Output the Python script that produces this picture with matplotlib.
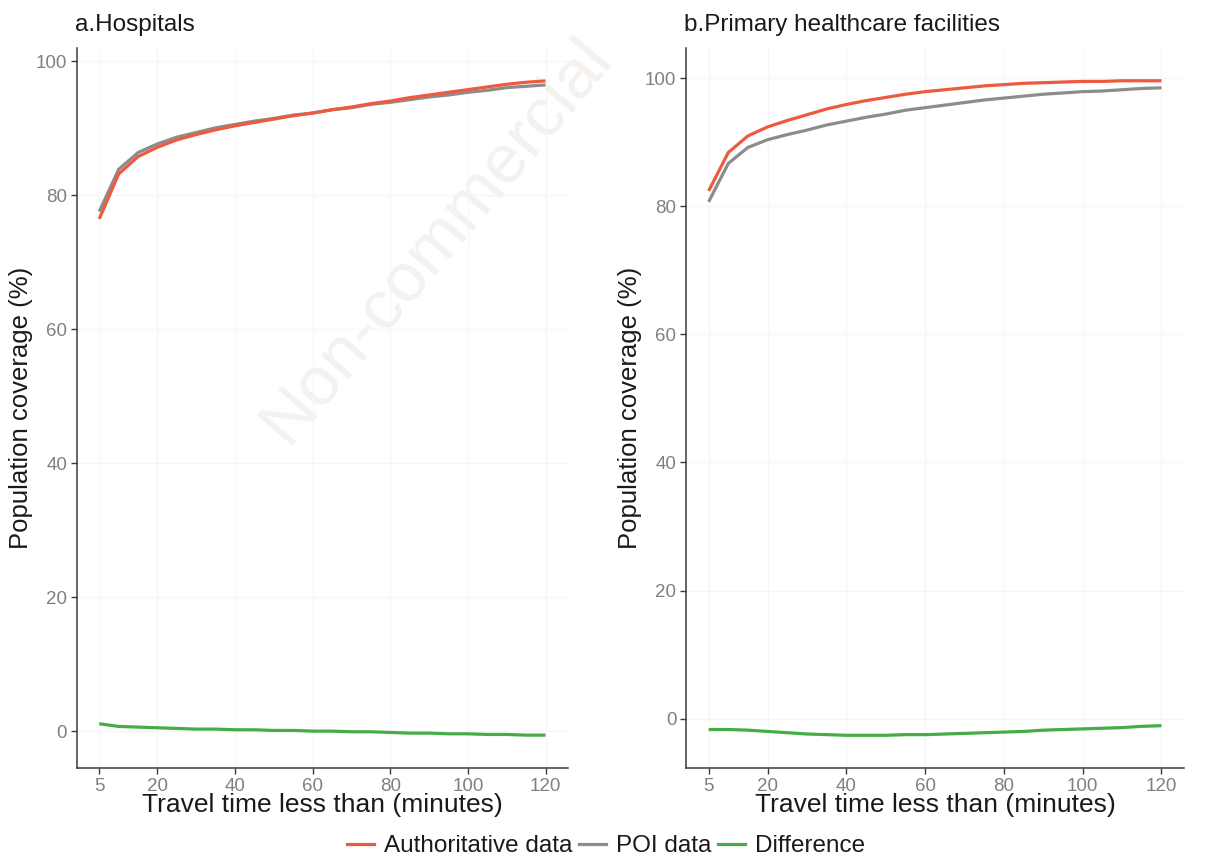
import numpy as np
import matplotlib.pyplot as plt
from matplotlib.lines import Line2D

plt.rcParams['font.family'] = ['Liberation Sans', 'DejaVu Sans']

minutes = [5, 10, 15, 20, 25, 30, 35, 40, 45, 50, 55, 60,
           65, 70, 75, 80, 85, 90, 95, 100, 105, 110, 115, 120]

# a. Hospitals
hosp_auth = [76.5, 83.2, 85.8, 87.2, 88.3, 89.1, 89.8, 90.4, 90.9, 91.4, 91.9, 92.3,
             92.8, 93.2, 93.7, 94.1, 94.6, 95.0, 95.4, 95.8, 96.2, 96.6, 96.9, 97.1]
hosp_poi = [77.6, 83.9, 86.4, 87.7, 88.7, 89.4, 90.1, 90.6, 91.1, 91.5, 92.0, 92.3,
            92.8, 93.1, 93.6, 93.9, 94.3, 94.7, 95.0, 95.4, 95.7, 96.1, 96.3, 96.5]
hosp_diff = [1.1, 0.7, 0.6, 0.5, 0.4, 0.3, 0.3, 0.2, 0.2, 0.1, 0.1, 0.0,
             0.0, -0.1, -0.1, -0.2, -0.3, -0.3, -0.4, -0.4, -0.5, -0.5, -0.6, -0.6]

# b. Primary healthcare facilities
phc_auth = [82.4, 88.4, 91.0, 92.4, 93.4, 94.3, 95.2, 95.9, 96.5, 97.0, 97.5, 97.9,
            98.2, 98.5, 98.8, 99.0, 99.2, 99.3, 99.4, 99.5, 99.5, 99.6, 99.6, 99.6]
phc_poi = [80.7, 86.7, 89.2, 90.4, 91.2, 91.9, 92.7, 93.3, 93.9, 94.4, 95.0, 95.4,
           95.8, 96.2, 96.6, 96.9, 97.2, 97.5, 97.7, 97.9, 98.0, 98.2, 98.4, 98.5]
phc_diff = [-1.7, -1.7, -1.8, -2.0, -2.2, -2.4, -2.5, -2.6, -2.6, -2.6, -2.5, -2.5,
            -2.4, -2.3, -2.2, -2.1, -2.0, -1.8, -1.7, -1.6, -1.5, -1.4, -1.2, -1.1]

x_ticks = [5, 20, 40, 60, 80, 100, 120]
y_ticks = [0, 20, 40, 60, 80, 100]

c_auth = '#EE5A3E'
c_poi = '#8C8C8C'
c_diff = '#45AD45'

fig = plt.figure(figsize=(12.12, 8.59), dpi=100)

# faint watermark, behind everything
fig.text(0.36, 0.72, 'Non-commercial', fontsize=50, color='#F4F1EF',
         rotation=50, ha='center', va='center', zorder=-5)

ax1 = fig.add_axes([0.0635, 0.106, 0.405, 0.838])
ax2 = fig.add_axes([0.566, 0.106, 0.411, 0.838])


def style_panel(ax, title, ylim):
    ax.set_facecolor('none')
    ax.set_xlim(-0.75, 125.75)
    ax.set_ylim(*ylim)
    ax.set_xticks(x_ticks)
    ax.set_yticks(y_ticks)
    ax.grid(True, color='#F6F6F6', linewidth=1.0)
    ax.set_axisbelow(True)
    for side in ['top', 'right']:
        ax.spines[side].set_visible(False)
    for side in ['left', 'bottom']:
        ax.spines[side].set_color('#3A3A3A')
        ax.spines[side].set_linewidth(1.1)
    ax.tick_params(colors='#3A3A3A', labelcolor='#808080', labelsize=13.5,
                   length=4, width=1.0, pad=3)
    ax.set_xlabel('Travel time less than (minutes)', fontsize=19, color='#1A1A1A',
                  labelpad=-1)
    ax.set_ylabel('Population coverage (%)', fontsize=18.5, color='#1A1A1A', labelpad=2)
    ax.set_title(title, loc='left', fontsize=17.5, color='#1A1A1A', pad=12, x=-0.005)


for ax, auth, poi, diff, title, ylim in [
        (ax1, hosp_auth, hosp_poi, hosp_diff, 'a.Hospitals', (-5.5, 102)),
        (ax2, phc_auth, phc_poi, phc_diff, 'b.Primary healthcare facilities', (-7.7, 104.7))]:
    ax.plot(minutes, poi, color=c_poi, linewidth=2.3, solid_capstyle='butt')
    ax.plot(minutes, auth, color=c_auth, linewidth=2.3, solid_capstyle='butt')
    ax.plot(minutes, diff, color=c_diff, linewidth=2.3, solid_capstyle='butt')
    style_panel(ax, title, ylim)

handles = [Line2D([], [], color=c_auth, linewidth=2.3),
           Line2D([], [], color=c_poi, linewidth=2.3),
           Line2D([], [], color=c_diff, linewidth=2.3)]
fig.legend(handles, ['Authoritative data', 'POI data', 'Difference'],
           loc='center', bbox_to_anchor=(0.5, 0.015), ncol=3, frameon=False,
           fontsize=17.5, handlelength=1.1, handletextpad=0.4, columnspacing=0.3,
           labelcolor='#1A1A1A')

fig.savefig('out.png', dpi=100)
